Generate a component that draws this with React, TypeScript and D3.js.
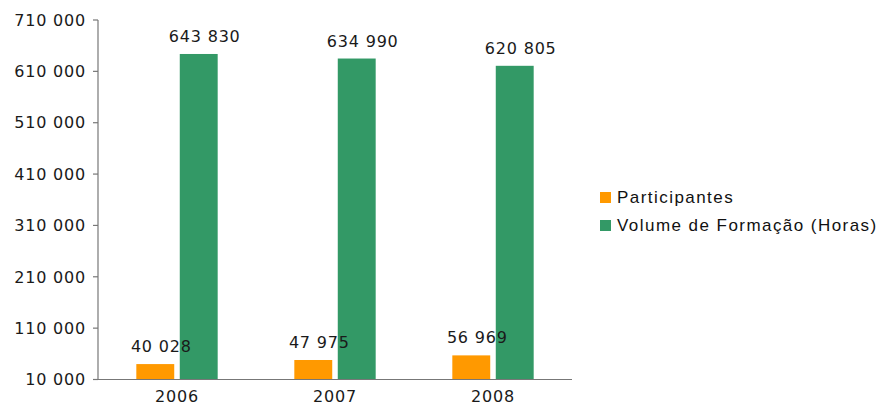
import React from "react";
import * as d3 from "d3";

const years = ["2006", "2007", "2008"];
const participantes = [40028, 47975, 56969];
const volumeHoras = [643830, 634990, 620805];
const seriesNames = ["Participantes", "Volume de Formação (Horas)"];
const seriesColors = ["#FF9900", "#339966"];
const yTicks = [10000, 110000, 210000, 310000, 410000, 510000, 610000, 710000];

const W = 882;
const H = 406;
const plot = { left: 98, right: 572, top: 20, bottom: 379.5 };

const fmt = (v: number) => d3.format(",")(v).replace(/,/g, " ");

export default function App() {
  const x = d3.scaleBand<string>().domain(years).range([plot.left, plot.right]).padding(0);
  const y = d3.scaleLinear().domain([10000, 710000]).range([plot.bottom, plot.top]);
  const bw = x.bandwidth() * 0.24;
  const gap = x.bandwidth() * 0.035;
  const series = [participantes, volumeHoras];
  const numFont = { fontFamily: "DejaVu Sans", fontSize: 16, letterSpacing: 0.8, fill: "#1a1a1a" } as const;

  const bars = years.flatMap((yr, i) => {
    const c = (x(yr) as number) + x.bandwidth() / 2;
    return series.map((s, k) => {
      const bx = k === 0 ? c - gap / 2 - bw : c + gap / 2;
      return { key: yr + k, bx, v: s[i], k };
    });
  });

  return (
    <svg width={W} height={H} style={{ position: "absolute", left: 0, top: 0, background: "#fff" }}>
      {/* bars */}
      {bars.map((b) => (
        <rect key={b.key} x={b.bx} y={y(b.v)} width={bw} height={plot.bottom - y(b.v)} fill={seriesColors[b.k]} />
      ))}
      {/* y axis */}
      <line x1={plot.left} x2={plot.left} y1={plot.top} y2={plot.bottom} stroke="#777" strokeWidth={1.2} />
      {yTicks.map((t) => (
        <g key={t}>
          <line x1={plot.left - 5} x2={plot.left} y1={y(t)} y2={y(t)} stroke="#777" strokeWidth={1.2} />
          <text x={86} y={y(t)} dy="0.36em" textAnchor="end" {...numFont}>
            {fmt(t)}
          </text>
        </g>
      ))}
      {/* x axis */}
      <line x1={plot.left - 5} x2={plot.right} y1={plot.bottom} y2={plot.bottom} stroke="#777" strokeWidth={1.2} />
      {years.map((yr) => (
        <text key={yr} x={(x(yr) as number) + x.bandwidth() / 2} y={402} textAnchor="middle" {...numFont}>
          {yr}
        </text>
      ))}
      {/* data labels (on top of bars) */}
      {bars.map((b) => (
        <text key={"l" + b.key} x={b.bx + bw / 2 + 6} y={y(b.v) - 12} textAnchor="middle" {...numFont}>
          {fmt(b.v)}
        </text>
      ))}
      {/* legend */}
      {seriesNames.map((n, k) => (
        <g key={n} transform={`translate(600, ${197 + k * 28})`}>
          <rect x={0} y={-5} width={11} height={11} fill={seriesColors[k]} />
          <text x={17} y={0} dy="0.36em" fontFamily="Liberation Sans, Arial" fontSize={17} letterSpacing={1.45} fill="#111">
            {n}
          </text>
        </g>
      ))}
    </svg>
  );
}
